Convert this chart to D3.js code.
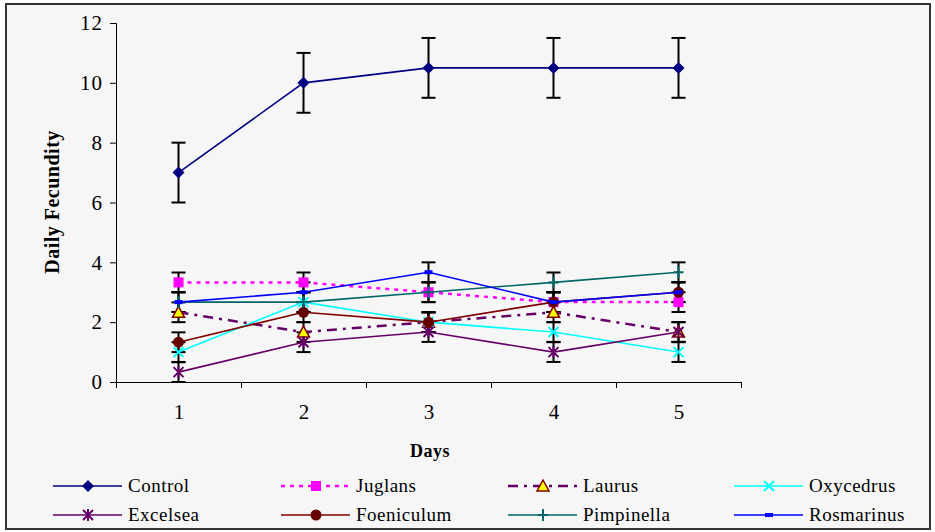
<!DOCTYPE html>
<meta charset="utf-8">
<script src="https://d3js.org/d3.v7.min.js"></script>
<body style="margin:0">
<div id="chart"></div>
<script>

// data
var days = [1, 2, 3, 4, 5];
var yTicks = [0, 2, 4, 6, 8, 10, 12];
var control    = [7, 10, 10.5, 10.5, 10.5];
var juglans    = [3.33, 3.33, 3.0, 2.67, 2.67];
var laurus     = [2.33, 1.67, 2.0, 2.33, 1.67];
var oxycedrus  = [1.0, 2.67, 2.0, 1.67, 1.0];
var excelsea   = [0.33, 1.33, 1.67, 1.0, 1.67];
var foeniculum = [1.33, 2.33, 2.0, 2.67, 3.0];
var pimpinella = [2.67, 2.67, 3.0, 3.33, 3.67];
var rosmarinus = [2.67, 3.0, 3.67, 2.67, 3.0];
var controlErr = [1, 1, 1, 1, 1];
var otherErr   = [0.33, 0.33, 0.33, 0.33, 0.33];

var series = [
  {name: "Control",    values: control,    err: controlErr, color: "#000080", dash: null,        marker: "diamond"},
  {name: "Juglans",    values: juglans,    err: otherErr,   color: "#ff00ff", dash: "4,5",       marker: "square"},
  {name: "Laurus",     values: laurus,     err: otherErr,   color: "#660066", dash: "10,6,3,6",  marker: "triangle"},
  {name: "Oxycedrus",  values: oxycedrus,  err: otherErr,   color: "#00ffff", dash: null,        marker: "x"},
  {name: "Excelsea",   values: excelsea,   err: otherErr,   color: "#660066", dash: null,        marker: "star"},
  {name: "Foeniculum", values: foeniculum, err: otherErr,   color: "#800000", dash: null,        marker: "circle"},
  {name: "Pimpinella", values: pimpinella, err: otherErr,   color: "#006666", dash: null,        marker: "plus"},
  {name: "Rosmarinus", values: rosmarinus, err: otherErr,   color: "#0000ff", dash: null,        marker: "bar"}
];

var W = 935, H = 532;
var svg = d3.select("#chart").append("svg")
  .attr("width", W).attr("height", H);

function serif(t, size, bold) {
  t.attr("font-family", "Liberation Serif")
   .style("font-family", "'Liberation Serif'")
   .style("font-size", size + "px")
   .attr("fill", "#000");
  if (bold) t.style("font-weight", "bold");
  return t;
}

// frame
svg.append("rect")
  .attr("x", 6).attr("y", 4).attr("width", 924).attr("height", 525)
  .attr("fill", "#f6f6f6").attr("stroke", "#333").attr("stroke-width", 2);

var x = d3.scaleLinear().domain([0.5, 5.5]).range([116, 741]);
var y = d3.scaleLinear().domain([0, 12]).range([382, 23]);

// axes
var yAxis = svg.append("g")
  .attr("transform", "translate(116,0)")
  .call(d3.axisLeft(y).tickValues(yTicks).tickSize(6).tickPadding(7));
yAxis.attr("font-family", "Liberation Serif");
serif(yAxis.selectAll("text"), 21).style("letter-spacing", "1px");

var xTickMarks = svg.append("g")
  .attr("transform", "translate(0,382)")
  .call(d3.axisBottom(x).tickValues([0.5, 1.5, 2.5, 3.5, 4.5, 5.5]).tickSize(6).tickFormat(""));
var xLabels = svg.append("g")
  .attr("transform", "translate(0,382)")
  .call(d3.axisBottom(x).tickValues(days).tickSize(0).tickPadding(22).tickFormat(d3.format("d")));
xLabels.attr("font-family", "Liberation Serif");
xLabels.select(".domain").remove();
serif(xLabels.selectAll("text"), 21);
svg.selectAll(".domain, .tick line").attr("stroke", "#000");

serif(svg.append("text"), 18, true)
  .attr("x", 430).attr("y", 457)
  .attr("text-anchor", "middle")
  .style("letter-spacing", "0.5px")
  .text("Days");

serif(svg.append("text"), 20, true)
  .attr("transform", "translate(59,202) rotate(-90)")
  .attr("text-anchor", "middle")
  .style("letter-spacing", "0.5px")
  .text("Daily Fecundity");

// markers
function drawMarker(g, s, cx, cy) {
  var m = s.marker;
  if (m === "diamond") {
    g.append("path").attr("d", "M0,-6L6,0L0,6L-6,0Z").attr("transform", "translate(" + cx + "," + cy + ")")
      .attr("fill", s.color);
  } else if (m === "square") {
    g.append("rect").attr("x", cx - 5).attr("y", cy - 5).attr("width", 10).attr("height", 10).attr("fill", s.color);
  } else if (m === "triangle") {
    g.append("path").attr("d", "M0,-6L6,5L-6,5Z").attr("transform", "translate(" + cx + "," + cy + ")")
      .attr("fill", "#ffff00").attr("stroke", "#800000").attr("stroke-width", 1.5);
  } else if (m === "x") {
    g.append("path").attr("d", "M-5,-5L5,5M-5,5L5,-5").attr("transform", "translate(" + cx + "," + cy + ")")
      .attr("stroke", s.color).attr("stroke-width", 2).attr("fill", "none");
  } else if (m === "star") {
    g.append("path").attr("d", "M-5,-5L5,5M-5,5L5,-5M0,-6L0,6").attr("transform", "translate(" + cx + "," + cy + ")")
      .attr("stroke", s.color).attr("stroke-width", 2).attr("fill", "none");
  } else if (m === "circle") {
    g.append("circle").attr("cx", cx).attr("cy", cy).attr("r", 5.5).attr("fill", "#660000");
  } else if (m === "plus") {
    g.append("path").attr("d", "M-5,0L5,0M0,-6L0,6").attr("transform", "translate(" + cx + "," + cy + ")")
      .attr("stroke", s.color).attr("stroke-width", 2).attr("fill", "none");
  } else if (m === "bar") {
    g.append("rect").attr("x", cx - 4).attr("y", cy - 2).attr("width", 8).attr("height", 4).attr("fill", s.color);
  }
}

// error bars
var errG = svg.append("g");
series.forEach(function(s) {
  s.values.forEach(function(v, i) {
    var cx = x(days[i]);
    var hi = y(v + s.err[i]), lo = y(Math.max(0, v - s.err[i]));
    errG.append("line").attr("x1", cx).attr("x2", cx).attr("y1", hi).attr("y2", lo)
      .attr("stroke", "#000").attr("stroke-width", 2);
    [hi, lo].forEach(function(yy) {
      errG.append("line").attr("x1", cx - 7).attr("x2", cx + 7).attr("y1", yy).attr("y2", yy)
        .attr("stroke", "#000").attr("stroke-width", 2);
    });
  });
});

// lines
var line = d3.line().x(function(d, i) { return x(days[i]); }).y(function(d) { return y(d); });
series.forEach(function(s) {
  var g = svg.append("g");
  g.append("path").datum(s.values).attr("d", line)
    .attr("fill", "none").attr("stroke", s.color).attr("stroke-width", s.dash ? 2.5 : 1.6)
    .attr("stroke-dasharray", s.dash);
  s.values.forEach(function(v, i) { drawMarker(g, s, x(days[i]), y(v)); });
});

// legend
var legX = [53, 281, 508, 734], legY = [486, 515];
series.forEach(function(s, i) {
  var col = i % 4, row = Math.floor(i / 4);
  var lx = legX[col], ly = legY[row];
  var g = svg.append("g");
  g.append("line").attr("x1", lx).attr("x2", lx + 69).attr("y1", ly).attr("y2", ly)
    .attr("stroke", s.color).attr("stroke-width", s.dash ? 2.5 : 1.6).attr("stroke-dasharray", s.dash);
  drawMarker(g, s, lx + 35, ly);
  serif(g.append("text"), 19, false).attr("x", lx + 75).attr("y", ly + 6)
    .style("letter-spacing", "0.5px").text(s.name);
});
</script>
</body>
